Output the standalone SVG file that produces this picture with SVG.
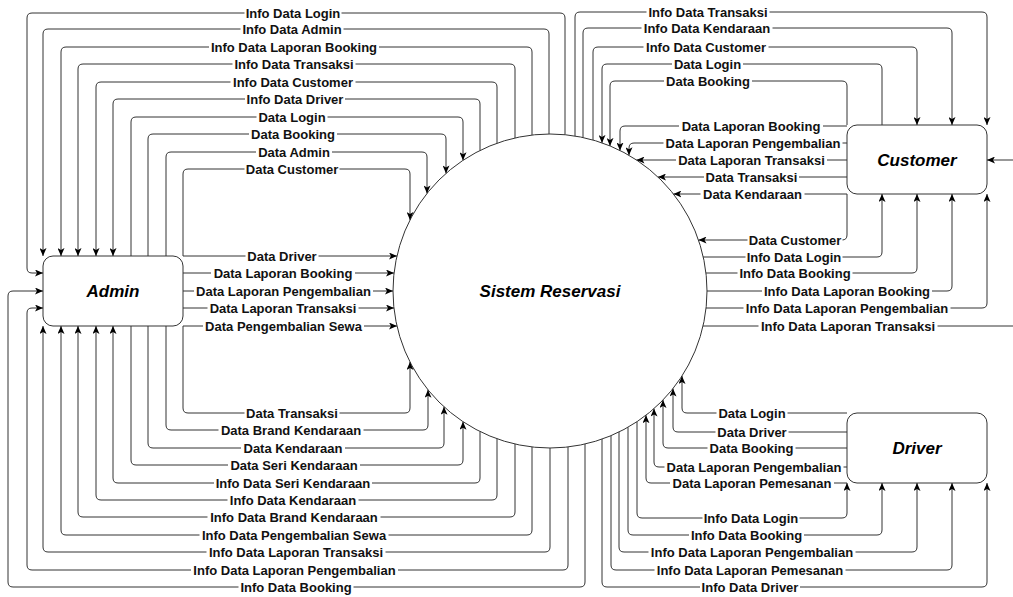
<svg xmlns="http://www.w3.org/2000/svg" width="1013" height="597" viewBox="0 0 1013 597">
<style>
.c{fill:none;stroke:#333;stroke-width:1;marker-end:url(#ar)}
.lb{fill:#fff}
.t{font-family:"Liberation Sans",Arial,Helvetica,sans-serif;font-size:13px;font-weight:bold;fill:#111;text-anchor:middle}
.n{fill:#fff;stroke:#333;stroke-width:1}
.nt{font-family:"Liberation Sans",Arial,Helvetica,sans-serif;font-size:17px;font-weight:bold;font-style:italic;fill:#000;text-anchor:middle}
</style>
<defs>
<marker id="ar" viewBox="0 0 8 7" refX="8" refY="3.5" markerWidth="8" markerHeight="7" orient="auto" markerUnits="userSpaceOnUse">
<path d="M0,0 L8,3.5 L0,7 L2,3.5 z" fill="#000"/>
</marker>
</defs>
<rect width="1013" height="597" fill="#fff"/>
<g id="sistem"><circle class="n" cx="550" cy="291" r="157"/><text class="nt" x="550" y="297">Sistem Reservasi</text></g>
<g id="admin"><rect class="n" x="43" y="256" width="140" height="70" rx="10"/><text class="nt" x="113" y="297">Admin</text></g>
<g id="customer"><rect class="n" x="847" y="125" width="140" height="69" rx="10"/><text class="nt" x="917" y="166">Customer</text></g>
<g id="driver"><rect class="n" x="847" y="413" width="140" height="70" rx="10"/><text class="nt" x="917" y="454">Driver</text></g>
<g id="connectors">
<g><path class="c" d="M565,134.7 V18 Q565,13 560,13 H32 Q27,13 27,18 V268 Q27,273 32,273 H43"/><rect class="lb" x="244.5" y="6" width="97" height="14"/><text class="t" x="293" y="17.5">Info Data Login</text></g>
<g><path class="c" d="M549,134 V34 Q549,29 544,29 H48 Q43,29 43,34 V256"/><rect class="lb" x="240.5" y="22" width="103" height="14"/><text class="t" x="292" y="33.5">Info Data Admin</text></g>
<g><path class="c" d="M532,135 V52 Q532,47 527,47 H66 Q61,47 61,52 V256"/><rect class="lb" x="209" y="40" width="170" height="14"/><text class="t" x="294" y="51.5">Info Data Laporan Booking</text></g>
<g><path class="c" d="M515,138 V69 Q515,64 510,64 H83 Q78,64 78,69 V256"/><rect class="lb" x="232.5" y="57" width="123" height="14"/><text class="t" x="294" y="68.5">Info Data Transaksi</text></g>
<g><path class="c" d="M497,143.2 V87 Q497,82 492,82 H101 Q96,82 96,87 V256"/><rect class="lb" x="230.5" y="75" width="125" height="14"/><text class="t" x="293" y="86.5">Info Data Customer</text></g>
<g><path class="c" d="M480,150.5 V104 Q480,99 475,99 H118 Q113,99 113,104 V256"/><rect class="lb" x="245" y="92" width="100" height="14"/><text class="t" x="295" y="103.5">Info Data Driver</text></g>
<g><path class="c" d="M131,256 V122 Q131,117 136,117 H458 Q463,117 463,122 V160.3"/><rect class="lb" x="256.5" y="110" width="71" height="14"/><text class="t" x="292" y="121.5">Data Login</text></g>
<g><path class="c" d="M148,256 V139 Q148,134 153,134 H441 Q446,134 446,139 V173.4"/><rect class="lb" x="249" y="127" width="88" height="14"/><text class="t" x="293" y="138.5">Data Booking</text></g>
<g><path class="c" d="M166,256 V157 Q166,152 171,152 H422 Q427,152 427,157 V193.4"/><rect class="lb" x="256" y="145" width="76" height="14"/><text class="t" x="294" y="156.5">Data Admin</text></g>
<g><path class="c" d="M183,256 V174 Q183,169 188,169 H405 Q410,169 410,174 V219.9"/><rect class="lb" x="244.5" y="162" width="95" height="14"/><text class="t" x="292" y="173.5">Data Customer</text></g>
<g><path class="c" d="M183,256 H397"/><rect class="lb" x="245.5" y="249" width="73" height="14"/><text class="t" x="282" y="260.5">Data Driver</text></g>
<g><path class="c" d="M183,273 H394"/><rect class="lb" x="211" y="266" width="144" height="14"/><text class="t" x="283" y="277.5">Data Laporan Booking</text></g>
<g><path class="c" d="M183,291 H393"/><rect class="lb" x="194" y="284" width="179" height="14"/><text class="t" x="283.5" y="295.5">Data Laporan Pengembalian</text></g>
<g><path class="c" d="M183,308 H394"/><rect class="lb" x="207.5" y="301" width="151" height="14"/><text class="t" x="283" y="312.5">Data Laporan Transaksi</text></g>
<g><path class="c" d="M183,326 H397"/><rect class="lb" x="203" y="319" width="161" height="14"/><text class="t" x="283.5" y="330.5">Data Pengembalian Sewa</text></g>
<g><path class="c" d="M183,326 V408 Q183,413 188,413 H405 Q410,413 410,408 V362"/><rect class="lb" x="244.5" y="406" width="95" height="14"/><text class="t" x="292" y="417.5">Data Transaksi</text></g>
<g><path class="c" d="M166,326 V425 Q166,430 171,430 H423 Q428,430 428,425 V389.8"/><rect class="lb" x="218.5" y="423" width="145" height="14"/><text class="t" x="291" y="434.5">Data Brand Kendaraan</text></g>
<g><path class="c" d="M148,326 V443 Q148,448 153,448 H439 Q444,448 444,443 V406.8"/><rect class="lb" x="241" y="441" width="104" height="14"/><text class="t" x="293" y="452.5">Data Kendaraan</text></g>
<g><path class="c" d="M131,326 V460 Q131,465 136,465 H458 Q463,465 463,460 V421.7"/><rect class="lb" x="228" y="458" width="132" height="14"/><text class="t" x="294" y="469.5">Data Seri Kendaraan</text></g>
<g><path class="c" d="M480,431.5 V478 Q480,483 475,483 H118 Q113,483 113,478 V326"/><rect class="lb" x="214" y="476" width="158" height="14"/><text class="t" x="293" y="487.5">Info Data Seri Kendaraan</text></g>
<g><path class="c" d="M497,438.8 V495 Q497,500 492,500 H101 Q96,500 96,495 V326"/><rect class="lb" x="227.5" y="493" width="131" height="14"/><text class="t" x="293" y="504.5">Info Data Kendaraan</text></g>
<g><path class="c" d="M515,444 V512 Q515,517 510,517 H83 Q78,517 78,512 V326"/><rect class="lb" x="207.5" y="510" width="173" height="14"/><text class="t" x="294" y="521.5">Info Data Brand Kendaraan</text></g>
<g><path class="c" d="M532,447 V530 Q532,535 527,535 H66 Q61,535 61,530 V326"/><rect class="lb" x="199.5" y="528" width="189" height="14"/><text class="t" x="294" y="539.5">Info Data Pengembalian Sewa</text></g>
<g><path class="c" d="M550,448 V547 Q550,552 545,552 H48 Q43,552 43,547 V326"/><rect class="lb" x="206.5" y="545" width="179" height="14"/><text class="t" x="296" y="556.5">Info Data Laporan Transaksi</text></g>
<g><path class="c" d="M568,447 V565 Q568,570 563,570 H32 Q27,570 27,565 V313 Q27,308 32,308 H43"/><rect class="lb" x="191" y="563" width="207" height="14"/><text class="t" x="294.5" y="574.5">Info Data Laporan Pengembalian</text></g>
<g><path class="c" d="M585,444 V582 Q585,587 580,587 H13 Q8,587 8,582 V296 Q8,291 13,291 H43"/><rect class="lb" x="238.5" y="580" width="115" height="14"/><text class="t" x="296" y="591.5">Info Data Booking</text></g>
<g><path class="c" d="M575,136 V17 Q575,12 580,12 H982 Q987,12 987,17 V125"/><rect class="lb" x="646.5" y="5" width="123" height="14"/><text class="t" x="708" y="16.5">Info Data Transaksi</text></g>
<g><path class="c" d="M583,137.5 V33 Q583,28 588,28 H947 Q952,28 952,33 V125"/><rect class="lb" x="641.5" y="21" width="131" height="14"/><text class="t" x="707" y="32.5">Info Data Kendaraan</text></g>
<g><path class="c" d="M593,140 V52 Q593,47 598,47 H912 Q917,47 917,52 V125"/><rect class="lb" x="643.5" y="40" width="125" height="14"/><text class="t" x="706" y="51.5">Info Data Customer</text></g>
<g><path class="c" d="M882,125 V69 Q882,64 877,64 H607 Q602,64 602,69 V142.9"/><rect class="lb" x="672" y="57" width="71" height="14"/><text class="t" x="707.5" y="68.5">Data Login</text></g>
<g><path class="c" d="M847,125 V86 Q847,81 842,81 H615 Q610,81 610,86 V145.9"/><rect class="lb" x="664" y="74" width="88" height="14"/><text class="t" x="708" y="85.5">Data Booking</text></g>
<g><path class="c" d="M847,126 H625 Q620,126 620,131 V150.5"/><rect class="lb" x="679" y="119" width="144" height="14"/><text class="t" x="751" y="130.5">Data Laporan Booking</text></g>
<g><path class="c" d="M847,143 H634 Q629,143 629,148 V155.3"/><rect class="lb" x="663.5" y="136" width="179" height="14"/><text class="t" x="753" y="147.5">Data Laporan Pengembalian</text></g>
<g><path class="c" d="M847,160 H636.5"/><rect class="lb" x="676" y="153" width="151" height="14"/><text class="t" x="751.5" y="164.5">Data Laporan Transaksi</text></g>
<g><path class="c" d="M847,177 H658"/><rect class="lb" x="704" y="170" width="95" height="14"/><text class="t" x="751.5" y="181.5">Data Transaksi</text></g>
<g><path class="c" d="M847,194 H673.4"/><rect class="lb" x="700.5" y="187" width="104" height="14"/><text class="t" x="752.5" y="198.5">Data Kendaraan</text></g>
<g><path class="c" d="M847,194 V235 Q847,240 842,240 H698.5"/><rect class="lb" x="747.5" y="233" width="95" height="14"/><text class="t" x="795" y="244.5">Data Customer</text></g>
<g><path class="c" d="M703,257 H877 Q882,257 882,252 V194"/><rect class="lb" x="745.5" y="250" width="97" height="14"/><text class="t" x="794" y="261.5">Info Data Login</text></g>
<g><path class="c" d="M706,273 H912 Q917,273 917,268 V194"/><rect class="lb" x="737.5" y="266" width="115" height="14"/><text class="t" x="795" y="277.5">Info Data Booking</text></g>
<g><path class="c" d="M707,291 H947 Q952,291 952,286 V194"/><rect class="lb" x="762" y="284" width="170" height="14"/><text class="t" x="847" y="295.5">Info Data Laporan Booking</text></g>
<g><path class="c" d="M706,308 H982 Q987,308 987,303 V194"/><rect class="lb" x="743.5" y="301" width="207" height="14"/><text class="t" x="847" y="312.5">Info Data Laporan Pengembalian</text></g>
<g><path class="c" d="M703,326 H1025 Q1030,326 1030,321 V165 Q1030,160 1025,160 H987"/><rect class="lb" x="758.5" y="319" width="179" height="14"/><text class="t" x="848" y="330.5">Info Data Laporan Transaksi</text></g>
<g><path class="c" d="M847,413 H687 Q682,413 682,408 V376"/><rect class="lb" x="716.5" y="406" width="71" height="14"/><text class="t" x="752" y="417.5">Data Login</text></g>
<g><path class="c" d="M847,432 H678 Q673,432 673,427 V388.6"/><rect class="lb" x="715.5" y="425" width="73" height="14"/><text class="t" x="752" y="436.5">Data Driver</text></g>
<g><path class="c" d="M847,448 H668 Q663,448 663,443 V400"/><rect class="lb" x="707.5" y="441" width="88" height="14"/><text class="t" x="751.5" y="452.5">Data Booking</text></g>
<g><path class="c" d="M847,467 H659 Q654,467 654,462 V408.6"/><rect class="lb" x="664.5" y="460" width="179" height="14"/><text class="t" x="754" y="471.5">Data Laporan Pengembalian</text></g>
<g><path class="c" d="M847,483 H651 Q646,483 646,478 V415.2"/><rect class="lb" x="670" y="476.5" width="164" height="14"/><text class="t" x="752" y="488">Data Laporan Pemesanan</text></g>
<g><path class="c" d="M637,421.7 V513 Q637,518 642,518 H842 Q847,518 847,513 V483"/><rect class="lb" x="702.5" y="511" width="97" height="14"/><text class="t" x="751" y="522.5">Info Data Login</text></g>
<g><path class="c" d="M628,427.3 V530 Q628,535 633,535 H877 Q882,535 882,530 V483"/><rect class="lb" x="689" y="528" width="115" height="14"/><text class="t" x="746.5" y="539.5">Info Data Booking</text></g>
<g><path class="c" d="M619,432 V547 Q619,552 624,552 H912 Q917,552 917,547 V483"/><rect class="lb" x="648.5" y="545" width="207" height="14"/><text class="t" x="752" y="556.5">Info Data Laporan Pengembalian</text></g>
<g><path class="c" d="M611,435.7 V565 Q611,570 616,570 H947 Q952,570 952,565 V483"/><rect class="lb" x="654.5" y="563" width="191" height="14"/><text class="t" x="750" y="574.5">Info Data Laporan Pemesanan</text></g>
<g><path class="c" d="M602,439 V582 Q602,587 607,587 H982 Q987,587 987,582 V483"/><rect class="lb" x="700" y="580" width="100" height="14"/><text class="t" x="750" y="591.5">Info Data Driver</text></g>
</g>
</svg>
